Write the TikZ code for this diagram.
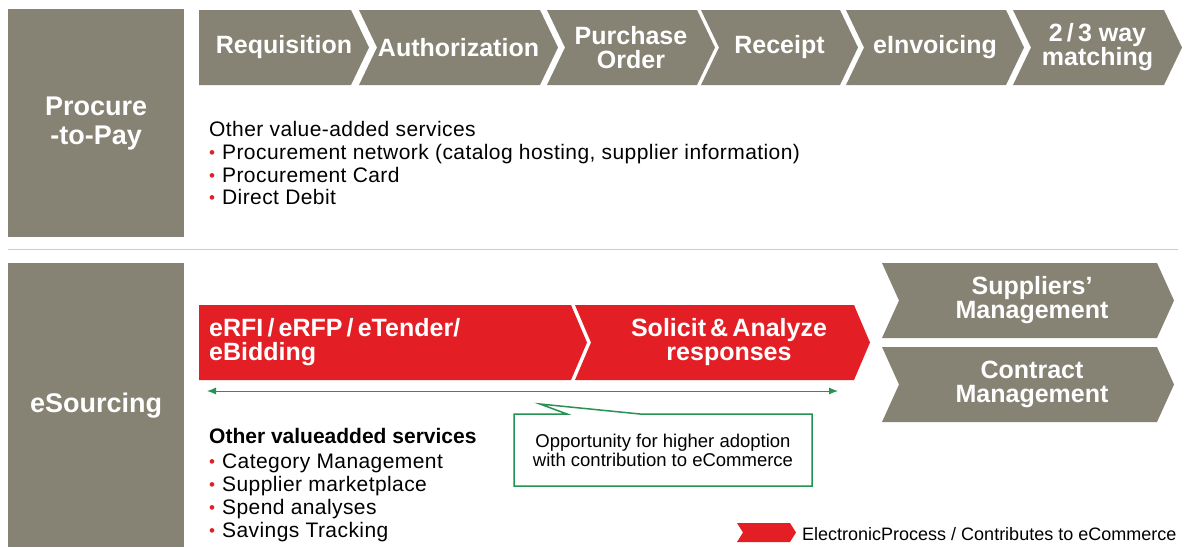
\documentclass[tikz,border=0pt]{standalone}
\usepackage{fontspec}
\setmainfont{Liberation Sans}
\usetikzlibrary{arrows.meta,backgrounds}
\definecolor{taupe}{RGB}{134,130,116}
\definecolor{rouge}{RGB}{227,30,37}
\definecolor{vert}{RGB}{38,146,82}
\newcommand{\puce}{\raisebox{0.5pt}{\color{rouge}\fontsize{17}{17}\selectfont\textbullet}\hspace{7pt}}
\tikzset{%
  bloc/.style={fill=taupe, text=white, font=\bfseries\fontsize{27}{29}\selectfont, align=center, inner sep=0pt, anchor=north west},%
  titre/.style={text=white, font=\bfseries\fontsize{25}{24}\selectfont, align=center, inner sep=0pt},%
  texte/.style={font=\fontsize{21}{23}\selectfont\addfontfeatures{LetterSpace=2}, inner sep=0pt, anchor=base west},%
  bulle/.style={vert, line width=1.5pt},%
  filet/.style={draw=black!20, line width=1pt}%
}
\begin{document}
\begin{tikzpicture}[x=1pt, y=-1pt,%
    show background rectangle,%
    tight background,%
    background rectangle/.style={fill=white}%
    ]
  \def\pointe{18}%
  \useasboundingbox (0,0) rectangle (1186,547);%

  % Blocs
  \node[bloc, minimum width=176pt, minimum height=228pt] (p2p) at (8,9) {Procure\\-to-Pay};%
  \node[bloc, minimum width=176pt, minimum height=284pt] (esrc) at (8,263) {eSourcing};%

  % Séparateur
  \coordinate (S1) at (8,249);%
  \coordinate (S2) at (1178,249);%
  \draw[filet] (S1) -- (S2);%

  % Chevrons Procure-to-Pay
  \foreach \xl/\xr/\enc/\nom/\txt in {199/351/0/req/Requisition, 359/540/18/auth/Authorization,
    547/697/18/po/{Purchase\\Order}, 701/840/18/rec/Receipt, 846/1006/18/einv/eInvoicing,
    1013/1164/18/match/{2\,/\,3 way\\matching}}{%
    \fill[taupe] (\xl,10) -- (\xr,10) -- (\xr+\pointe,47.5) -- (\xr,85) -- (\xl,85) -- (\xl+\enc,47.5) -- cycle;%
    \node[titre] (\nom) at ({(\xl+\xr+\pointe)/2},47.5) {\txt};%
  }

  % Services Procure-to-Pay
  \node[texte] (vas) at (209,136) {Other value-added services};%
  \foreach \y/\nom/\txt in {159/pn/{Procurement network (catalog hosting, supplier information)},
    182/pc/Procurement Card, 204/dd/Direct Debit}{%
    \node[texte] (\nom) at (209,\y) {\puce\txt};%
  }

  % Chevrons eSourcing
  \foreach \xl/\xr/\enc in {199/571/0, 575/854/16}{%
    \fill[rouge] (\xl,305) -- (\xr,305) -- (\xr+16,342.5) -- (\xr,380) -- (\xl,380) -- (\xl+\enc,342.5) -- cycle;%
  }
  \node[titre, anchor=west, align=left] (erfi) at (209,342.5) {eRFI\,/\,eRFP\,/\,eTender/\\eBidding};%
  \node[titre] (solicit) at (729,342.5) {Solicit\,\&\,Analyze\\responses};%
  \foreach \yt/\nom/\txt in {263/supp/{Suppliers’\\Management}, 347/contr/{Contract\\Management}}{%
    \fill[taupe] (882,\yt) -- (1157,\yt) -- (1174,\yt+37.5) -- (1157,\yt+75) -- (882,\yt+75) -- (899,\yt+37.5) -- cycle;%
    \node[titre] (\nom) at (1032,\yt+37.5) {\txt};%
  }

  % Flèche et bulle
  \coordinate (G1) at (207,391);%
  \coordinate (G2) at (838,391);%
  \draw[vert, line width=1pt, {Latex[length=9pt,width=7pt]}-{Latex[length=9pt,width=7pt]}] (G1) -- (G2);%
  \coordinate (B1) at (514,414);%
  \coordinate (B2) at (567,414);%
  \coordinate (Bp) at (540,404);%
  \coordinate (B3) at (640,414);%
  \coordinate (B4) at (812,414);%
  \coordinate (B5) at (812,486);%
  \coordinate (B6) at (514,486);%
  \draw[bulle] (B1) -- (B2) -- (Bp) -- (B3) -- (B4) -- (B5) -- (B6) -- cycle;%
  \node[align=center, font=\fontsize{18.5}{19}\selectfont, inner sep=0pt] (opp) at (663,450) {Opportunity for higher adoption\\with contribution to eCommerce};%

  % Services eSourcing
  \node[texte, font=\bfseries\fontsize{21}{23}\selectfont] (vas2) at (209,443) {Other valueadded services};%
  \foreach \y/\nom/\txt in {468/cat/Category Management, 491/mkt/Supplier marketplace,
    514/spend/Spend analyses, 537/sav/Savings Tracking}{%
    \node[texte] (\nom) at (209,\y) {\puce\txt};%
  }

  % Légende
  \fill[rouge] (737,523) -- (790,523) -- (796,532.5) -- (790,542) -- (737,542) -- (743,532.5) -- cycle;%
  \node[anchor=west, inner sep=0pt, font=\fontsize{18}{19}\selectfont] (leg) at (802,534) {ElectronicProcess / Contributes to eCommerce};%
\end{tikzpicture}
\end{document}
